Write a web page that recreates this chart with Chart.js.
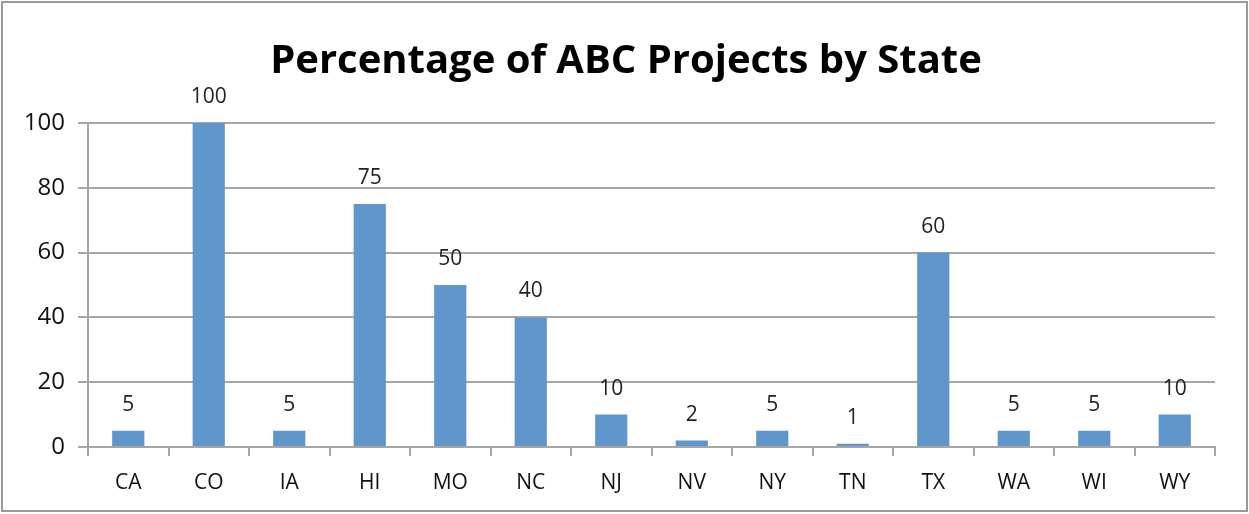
<!DOCTYPE html>
<html>
<head>
<meta charset="utf-8">
<script src="https://cdn.jsdelivr.net/npm/chart.js@4/dist/chart.umd.min.js"></script>
<style>
  html, body { margin: 0; padding: 0; background: #fff; }
  #wrap { width: 1249px; height: 514px; position: relative; }
</style>
</head>
<body>
<div id="wrap"><canvas id="myChart" width="1249" height="514"></canvas></div>
<script>
const states = ["CA", "CO", "IA", "HI", "MO", "NC", "NJ", "NV", "NY", "TN", "TX", "WA", "WI", "WY"] ;
const percentages = [5, 100, 5, 75, 50, 40, 10, 2, 5, 1, 60, 5, 5, 10] ;
const chartTitle = "Percentage of ABC Projects by State" ;

const FONT = "'Open Sans', 'Liberation Sans', sans-serif" ;
const gridGray = "#a6a6a6" ;

// border round the whole picture + the title + value labels
const extrasPlugin = {
  id: "extras",
  beforeDraw(chart) {
    const ctx = chart.ctx ;
    ctx.save() ;
    ctx.fillStyle = "#fff" ;
    ctx.fillRect(0, 0, chart.width, chart.height) ;
    ctx.restore() ;
  },
  afterDraw(chart) {
    const ctx = chart.ctx ;
    ctx.save() ;
    ctx.strokeStyle = "#9a9a9a" ;
    ctx.lineWidth = 2 ;
    ctx.strokeRect(2, 2, chart.width - 4, chart.height - 5) ;

    ctx.fillStyle = "#000" ;
    ctx.font = "bold 40px " + FONT ;
    ctx.textAlign = "center" ;
    ctx.textBaseline = "middle" ;
    ctx.fillText(chartTitle, 626, 62) ;

    // value labels above each bar
    ctx.font = "21px " + FONT ;
    ctx.fillStyle = "#222" ;
    const meta = chart.getDatasetMeta(0) ;
    meta.data.forEach((bar, i) => {
      ctx.fillText(String(percentages[i]), bar.x, bar.y - 26) ;
    }) ;
    ctx.restore() ;
  }
} ;

const ctx = document.getElementById("myChart") ;

new Chart(ctx, {
  type: "bar",
  data: {
    labels: states,
    datasets: [{
      label: "Percentage",
      data: percentages,
      backgroundColor: "#5f97cc",
      borderWidth: 0,
      barPercentage: 0.4,
      categoryPercentage: 1.0
    }]
  },
  options: {
    responsive: false,
    animation: false,
    devicePixelRatio: 1,
    layout: {
      padding: { top: 123, right: 34, bottom: 0, left: 0 }
    },
    plugins: {
      legend: { display: false },
      title: { display: false },
      tooltip: { enabled: false }
    },
    scales: {
      x: {
        offset: true,
        grid: {
          offset: true,
          drawOnChartArea: false,
          drawTicks: true,
          tickLength: 9,
          color: gridGray,
          lineWidth: 2
        },
        border: { color: gridGray, width: 2 },
        ticks: {
          color: "#111",
          font: { family: FONT, size: 21 },
          padding: 14,
          maxRotation: 0,
          minRotation: 0
        },
        afterFit: (scale) => { scale.height = 67 ; }
      },
      y: {
        min: 0,
        max: 100,
        ticks: {
          stepSize: 20,
          color: "#111",
          font: { family: FONT, size: 24 },
          padding: 13
        },
        grid: {
          color: gridGray,
          lineWidth: 2,
          tickLength: 10
        },
        border: { color: gridGray, width: 2 },
        afterFit: (scale) => { scale.width = 88 ; }
      }
    }
  },
  plugins: [extrasPlugin]
}) ;
</script>
</body>
</html>
